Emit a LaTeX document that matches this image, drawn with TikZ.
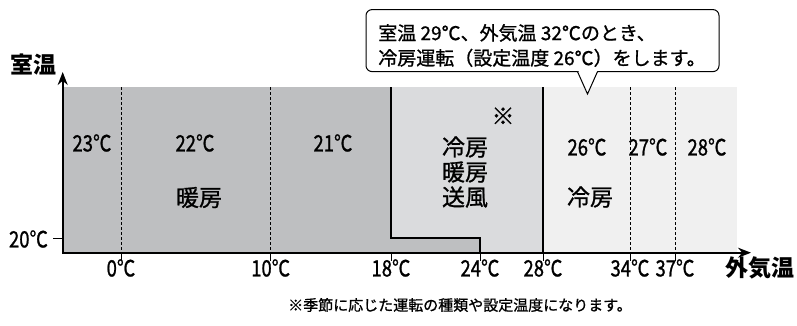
\documentclass[tikz,border=0pt]{standalone}
\usepackage{fontspec}
\setmainfont{Noto Sans CJK JP}
\newfontfamily\jpmed{Noto Sans CJK JP}[FakeBold=1]
\newfontfamily\nummed{Noto Sans CJK JP}[FakeStretch=0.82,FakeBold=1]
\usetikzlibrary{arrows.meta}
\definecolor{darkg}{RGB}{190,191,193}
\definecolor{midg}{RGB}{218,219,221}
\definecolor{lightg}{RGB}{240,240,240}
\begin{document}
\begin{tikzpicture}[x=1pt,y=-1pt,
  lbl/.style={font=\jpmed\fontsize{23}{26}\selectfont, inner sep=0pt},
  numlbl/.style={font=\nummed\fontsize{22.5}{24}\selectfont, inner sep=0pt},
  axlbl/.style={font=\fontsize{23}{25}\selectfont\bfseries, inner sep=0pt},
  dashline/.style={line width=0.8pt, dash pattern=on 3pt off 2pt},
  bound/.style={line width=1.1pt},
  axisline/.style={line width=1.6pt, {Stealth[length=13pt,width=10pt]}-{Stealth[length=13pt,width=10pt]}}]
\useasboundingbox (0,0) rectangle (797,325);
% regions
\fill[lightg] (543,87) rectangle (737,252.7);
\fill[midg] (391,87) rectangle (543,252.7);
\fill[darkg] (62.7,87) -- (391,87) -- (391,238) -- (480,238) -- (480,252.7) -- (62.7,252.7) -- cycle;
% dashed lines
\foreach \x in {121,270.7,630,675} \draw[dashline] (\x,87) -- (\x,252.7);
% boundaries
\draw[bound] (391,87) -- (391,238) -- (480,238) -- (480,252.7);
\draw[bound] (543,87) -- (543,252.7);
% axes
\coordinate (ytip) at (62.7,72);
\coordinate (orig) at (62.7,252.7);
\coordinate (xtip) at (751,252.7);
\draw[axisline] (ytip) -- (orig) -- (xtip);
% y tick
\draw[line width=1pt] (53,238) -- (62.7,238);
\node[numlbl] (y20) at (28.5,239) {20℃};
% x ticks
\foreach \x/\l in {121/0,270.7/10,391/18,480/24,543/28,630/34,675/37}{
  \draw[line width=1pt] (\x,252.7) -- (\x,261);
  \node[numlbl] (t\l) at (\x,268) {\l℃};
}
% axis labels
\node[axlbl] (ylab) at (33.5,65) {室温};
\node[axlbl] (xlab) at (760,268) {外気温};
% region labels
\node[numlbl] (l23) at (92,143) {23℃};
\node[numlbl] (l22) at (195,143) {22℃};
\node[numlbl] (l21) at (333,143) {21℃};
\node[lbl] (heat) at (199,197.5) {暖房};
\node[lbl] (mix1) at (465,147) {冷房};
\node[lbl] (mix2) at (465,172) {暖房};
\node[lbl] (mix3) at (465,197) {送風};
\node[lbl] (kome) at (503,116) {※};
\node[numlbl] (l26) at (587,147) {26℃};
\node[numlbl] (l27) at (648,147) {27℃};
\node[numlbl] (l28) at (707,147) {28℃};
\node[lbl] (cool) at (590,197) {冷房};
% callout
\node[draw, line width=1pt, rounded corners=6pt, fill=white, minimum width=353pt, minimum height=62pt,
  inner sep=0pt] (box) at (542.5,40.6) {};
\node[align=left, inner sep=0pt, font=\jpmed\fontsize{19}{25}\selectfont] (callout) at (542,45.5)
  {室温 29℃、外気温 32℃のとき、\\冷房運転（設定温度 26℃）をします。};
\coordinate (pa) at (577.5,71.6);
\coordinate (pt) at (587.5,94);
\coordinate (pb) at (597.5,71.6);
\fill[white] (pa) -- (pt) -- (pb) -- cycle;
\fill[white] (578.5,70.5) rectangle (596.5,72.5);
\draw[line width=1pt, line join=miter] (pa) -- (pt) -- (pb);
% footnote
\node[font=\jpmed\fontsize{15}{18}\selectfont, inner sep=0pt] (note) at (460,305) {※季節に応じた運転の種類や設定温度になります。};
\end{tikzpicture}
\end{document}
